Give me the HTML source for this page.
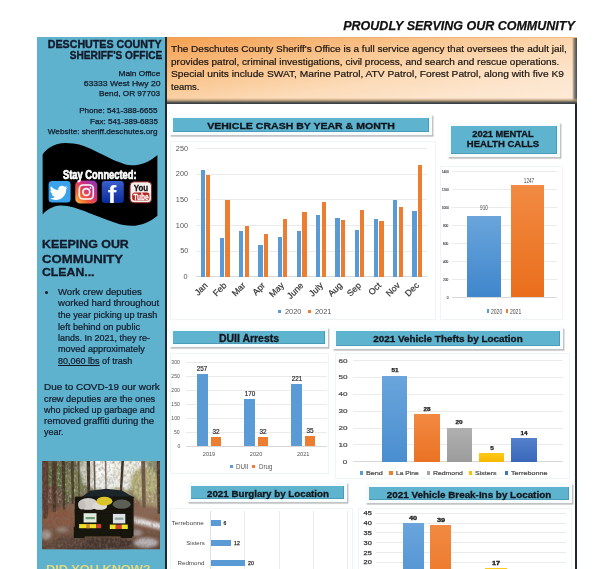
<!DOCTYPE html>
<html lang="en"><head><meta charset="utf-8"><title>Proudly Serving Our Community</title>
<style>
html,body{margin:0;padding:0;background:#fff;}
html{width:613px;height:569px;overflow:hidden;}
body{width:613px;height:569px;position:relative;overflow:hidden;font-family:"Liberation Sans", sans-serif;}
.r{position:absolute;box-sizing:border-box;}
.t{position:absolute;white-space:nowrap;margin:0;padding:0;font-weight:normal;display:block;}
.g{margin:0;padding:0;font-style:normal;}
.m{display:inline-block;width:0;height:0;vertical-align:baseline;}
#page{position:absolute;left:0;top:0;width:613px;height:569px;overflow:hidden;background:#fff;}
</style></head><body>
<div id="page">
<header class="g" id="page-header">
<h1 class="t" style="top:17.00px;font-size:13.6px;line-height:17px;color:#111;font-weight:bold;font-style:italic;right:38.40px;transform-origin:100% 13.00px;transform:scaleX(0.9196);-webkit-text-stroke:0.25px #111;">PROUDLY SERVING OUR COMMUNITY</h1>
</header>
<aside class="g" id="sidebar">
<div class="r" style="left:36.80px;top:37.00px;width:129.00px;height:540.00px;background:#5fb2cd;"></div>
<address class="g" id="office-contact">
<span class="t" style="top:38.00px;font-size:10px;line-height:13px;color:#121a2a;font-weight:bold;right:451.20px;transform-origin:100% 10.00px;transform:scaleX(1.0685);-webkit-text-stroke:0.35px #121a2a;">DESCHUTES COUNTY</span>
<span class="t" style="top:49.00px;font-size:10px;line-height:13px;color:#121a2a;font-weight:bold;right:450.70px;transform-origin:100% 10.00px;transform:scaleX(1.0134);-webkit-text-stroke:0.35px #121a2a;">SHERIFF'S OFFICE</span>
<span class="t" style="top:69.00px;font-size:7.8px;line-height:10px;color:#121a2a;right:452.50px;transform-origin:100% 7.00px;transform:scaleX(1.0637);-webkit-text-stroke:0.25px #121a2a;">Main Office</span>
<span class="t" style="top:79.00px;font-size:7.8px;line-height:10px;color:#121a2a;right:452.50px;transform-origin:100% 7.00px;transform:scaleX(1.1057);-webkit-text-stroke:0.25px #121a2a;">63333 West Hwy 20</span>
<span class="t" style="top:89.00px;font-size:7.8px;line-height:10px;color:#121a2a;right:452.50px;transform-origin:100% 7.00px;transform:scaleX(1.0500);-webkit-text-stroke:0.25px #121a2a;">Bend, OR 97703</span>
<span class="t" style="top:106.00px;font-size:7.8px;line-height:10px;color:#121a2a;right:455.30px;transform-origin:100% 7.00px;transform:scaleX(1.0379);-webkit-text-stroke:0.25px #121a2a;">Phone: 541-388-6655</span>
<span class="t" style="top:117.00px;font-size:7.8px;line-height:10px;color:#121a2a;right:455.30px;transform-origin:100% 7.00px;transform:scaleX(1.0290);-webkit-text-stroke:0.25px #121a2a;">Fax: 541-389-6835</span>
<span class="t" style="top:127.00px;font-size:7.8px;line-height:10px;color:#121a2a;right:455.30px;transform-origin:100% 7.00px;transform:scaleX(1.0498);-webkit-text-stroke:0.25px #121a2a;">Website: sheriff.deschutes.org</span>
</address>
<nav class="g" id="stay-connected">
<svg class="r" style="left:36px;top:136px" width="130" height="92" viewBox="36 136 130 92"><path d="M42.6 154.4 C45 151 48 148.5 50.7 147 C55 144.3 60 143 65.4 143 C70.5 143 75.5 143.8 80 144.8 C85 146.2 90 148.5 94.7 150.7 C100 153.2 105 155.8 109.4 158 C114 160.3 119 162.3 124 163.9 C128 165.1 132 165.5 135 165.3 C144 164.6 152 160 157.4 155 L157.4 215.7 C151 221.5 141 225.8 131.8 225.8 C126 225.8 121 224.8 116 223 C106 219.5 98 216.5 89 213 C78 208.5 68 205.3 60.4 205.6 C53 206 47 209.5 42.7 214.5 Z" fill="#000"/></svg>
<svg class="r" style="left:46px;top:178px" width="110" height="28" viewBox="46 178 110 28"><defs><linearGradient id="ig" x1="0" y1="1" x2="1" y2="0"><stop offset="0" stop-color="#fdc34f"/><stop offset="0.3" stop-color="#f4622f"/><stop offset="0.6" stop-color="#d42f7f"/><stop offset="1" stop-color="#7a3cc0"/></linearGradient><linearGradient id="fbg" x1="0" y1="0" x2="0" y2="1"><stop offset="0" stop-color="#3a5fd0"/><stop offset="1" stop-color="#0a2a9a"/></linearGradient></defs><rect x="48.6" y="181" width="22" height="21.5" rx="3.5" fill="#3aa2ea"/><path d="M66.5 187.2c-.5.3-1.100.5-1.700.5.600-.4 1.100-1 1.300-1.700-.6.4-1.200.6-1.900.7-.5-.6-1.300-1-2.200-1-1.700 0-3 1.400-3 3 0 .2 0 .5.100.7-2.500-.1-4.700-1.300-6.200-3.200-.3.500-.4 1-.4 1.500 0 1 .5 2 1.300 2.500-.5 0-1-.2-1.400-.4 0 1.500 1 2.700 2.400 3-.4.100-.9.100-1.300 0 .4 1.200 1.500 2.100 2.800 2.100-1.100.900-2.600 1.400-4.100 1.300 1.400.9 3 1.400 4.700 1.400 5.600 0 8.700-4.700 8.700-8.700v-.4c.6-.4 1.100-1 1.500-1.600z" fill="#fff" transform="translate(59.6 192) scale(1.2) translate(-59.6 -192) translate(-0.5 1)"/><rect x="75.3" y="180.6" width="22" height="22.8" rx="4.5" fill="url(#ig)"/><rect x="79.3" y="185" width="14" height="14" rx="3.8" fill="none" stroke="#fff" stroke-width="1.6"/><circle cx="86.3" cy="192" r="3.4" fill="none" stroke="#fff" stroke-width="1.6"/><circle cx="90.4" cy="187.9" r="0.9" fill="#fff"/><rect x="101.8" y="181" width="22" height="22" rx="3" fill="url(#fbg)"/><rect x="130" y="181.800" width="21.6" height="21" rx="4" fill="#f4f1ee" stroke="#8a1a16" stroke-width="1"/><rect x="132.200" y="192.400" width="17.200" height="8.200" rx="2.500" fill="#b5201c"/></svg>
<span class="t" style="top:167.00px;font-size:12.2px;line-height:16px;color:#fff;font-weight:bold;left:62.90px;transform-origin:0 12.00px;transform:scaleX(0.7653);-webkit-text-stroke:0.7px #fff;">Stay Connected:</span>
<span class="t" style="top:180.00px;font-size:24px;line-height:30px;color:#fff;font-weight:bold;left:112.40px;transform-origin:50% 23.00px;transform:translateX(-50%) scaleX(1.0750);">f</span>
<span class="t" style="top:182.00px;font-size:9.4px;line-height:12px;color:#111;font-weight:bold;left:140.80px;transform-origin:50% 9.00px;transform:translateX(-50%) scaleX(0.8463);-webkit-text-stroke:0.3px #111;">You</span>
<span class="t" style="top:191.00px;font-size:9.0px;line-height:12px;color:#fff;font-weight:bold;left:140.80px;transform-origin:50% 9.00px;transform:translateX(-50%) scaleX(0.7292);-webkit-text-stroke:0.3px #fff;">Tube</span>
</nav>
<section class="g" id="community-clean">
<div class="r" style="left:44.60px;top:291.00px;width:3.20px;height:3.20px;background:#121a2a;border-radius:50%;"></div>
<h2 class="t" style="top:237.00px;font-size:11px;line-height:14px;color:#121a2a;font-weight:bold;left:41.70px;transform-origin:0 11.00px;transform:scaleX(1.1270);-webkit-text-stroke:0.3px #121a2a;">KEEPING OUR</h2>
<h2 class="t" style="top:252.00px;font-size:11px;line-height:14px;color:#121a2a;font-weight:bold;left:41.70px;transform-origin:0 11.00px;transform:scaleX(1.1957);-webkit-text-stroke:0.3px #121a2a;">COMMUNITY</h2>
<h2 class="t" style="top:265.00px;font-size:11px;line-height:14px;color:#121a2a;font-weight:bold;left:41.70px;transform-origin:0 11.00px;transform:scaleX(1.1155);-webkit-text-stroke:0.3px #121a2a;">CLEAN...</h2>
<span class="t" style="top:286.00px;font-size:9.2px;line-height:12px;color:#121a2a;left:57.70px;transform-origin:0 9.00px;transform:scaleX(1.0408);-webkit-text-stroke:0.22px #121a2a;">Work crew deputies</span>
<span class="t" style="top:297.00px;font-size:9.2px;line-height:12px;color:#121a2a;left:57.70px;transform-origin:0 9.00px;transform:scaleX(1.0428);-webkit-text-stroke:0.22px #121a2a;">worked hard throughout</span>
<span class="t" style="top:309.00px;font-size:9.2px;line-height:12px;color:#121a2a;left:57.70px;transform-origin:0 9.00px;transform:scaleX(0.9919);-webkit-text-stroke:0.22px #121a2a;">the year picking up trash</span>
<span class="t" style="top:321.00px;font-size:9.2px;line-height:12px;color:#121a2a;left:57.70px;transform-origin:0 9.00px;transform:scaleX(1.0057);-webkit-text-stroke:0.22px #121a2a;">left behind on public</span>
<span class="t" style="top:332.00px;font-size:9.2px;line-height:12px;color:#121a2a;left:57.70px;transform-origin:0 9.00px;transform:scaleX(0.9789);-webkit-text-stroke:0.22px #121a2a;">lands. In 2021, they re-</span>
<span class="t" style="top:343.00px;font-size:9.2px;line-height:12px;color:#121a2a;left:57.70px;transform-origin:0 9.00px;transform:scaleX(0.9940);-webkit-text-stroke:0.22px #121a2a;">moved approximately</span>
<span class="t" style="top:355.00px;font-size:9.2px;line-height:12px;color:#121a2a;left:57.70px;transform-origin:0 9.00px;transform:scaleX(0.9814);-webkit-text-stroke:0.22px #121a2a;"><u style="text-decoration-thickness:0.6px;text-underline-offset:1px">80,060 lbs</u> of trash</span>
<span class="t" style="top:381.00px;font-size:9.2px;line-height:12px;color:#121a2a;left:43.50px;transform-origin:0 9.00px;transform:scaleX(1.0799);-webkit-text-stroke:0.22px #121a2a;">Due to COVD-19 our work</span>
<span class="t" style="top:393.00px;font-size:9.2px;line-height:12px;color:#121a2a;left:43.50px;transform-origin:0 9.00px;transform:scaleX(1.0079);-webkit-text-stroke:0.22px #121a2a;">crew deputies are the ones</span>
<span class="t" style="top:404.00px;font-size:9.2px;line-height:12px;color:#121a2a;left:43.50px;transform-origin:0 9.00px;transform:scaleX(0.9815);-webkit-text-stroke:0.22px #121a2a;">who picked up garbage and</span>
<span class="t" style="top:415.00px;font-size:9.2px;line-height:12px;color:#121a2a;left:43.50px;transform-origin:0 9.00px;transform:scaleX(1.0330);-webkit-text-stroke:0.22px #121a2a;">removed graffiti during the</span>
<span class="t" style="top:426.00px;font-size:9.2px;line-height:12px;color:#121a2a;left:43.50px;transform-origin:0 9.00px;transform:scaleX(0.9738);-webkit-text-stroke:0.22px #121a2a;">year.</span>
</section>
<section class="g" id="did-you-know">
<span class="t" style="top:562.00px;font-size:11px;line-height:14px;color:#e4d97c;font-weight:bold;left:45.90px;transform-origin:0 11.00px;transform:scaleX(1.1590);">DID YOU KNOW?</span>
</section>
<figure class="g" id="trailer-photo">
<svg class="r" style="left:41.8px;top:461.2px" width="118.6" height="88.5" viewBox="0 0 118.6 88.5"><defs><linearGradient id="pbg" x1="0" y1="0" x2="0" y2="1"><stop offset="0" stop-color="#86896a"/><stop offset="0.30" stop-color="#7a7a58"/><stop offset="0.45" stop-color="#7c5e48"/><stop offset="0.58" stop-color="#8c5e4a"/><stop offset="0.85" stop-color="#70503f"/><stop offset="1" stop-color="#5c4238"/></linearGradient><filter id="pbl" x="-10%" y="-10%" width="120%" height="120%"><feGaussianBlur stdDeviation="1.5"/></filter><filter id="pbm" x="-10%" y="-10%" width="120%" height="120%"><feGaussianBlur stdDeviation="1.0"/></filter><filter id="pbs" x="-5%" y="-5%" width="110%" height="110%"><feGaussianBlur stdDeviation="0.45"/></filter><filter id="pnz" x="0" y="0" width="100%" height="100%"><feTurbulence type="fractalNoise" baseFrequency="0.42 0.3" numOctaves="2" seed="11"/><feColorMatrix type="matrix" values="0 0 0 0 0.22  0 0 0 0 0.18  0 0 0 0 0.13  1.6 0.9 0 0 -1.05"/></filter><filter id="pnw" x="0" y="0" width="100%" height="100%"><feTurbulence type="fractalNoise" baseFrequency="0.5 0.35" numOctaves="2" seed="3"/><feColorMatrix type="matrix" values="0 0 0 0 0.93  0 0 0 0 0.92  0 0 0 0 0.86  0 1.7 0.8 0 -1.15"/></filter><clipPath id="pcl"><rect width="118.6" height="88.5"/></clipPath><clipPath id="ptop"><rect width="118.6" height="42"/></clipPath></defs><g clip-path="url(#pcl)"><rect width="118.6" height="88.5" fill="url(#pbg)"/><g filter="url(#pbl)"><ellipse cx="18.2" cy="18.8" rx="22.0" ry="26.0" fill="#5a5a3c" /><ellipse cx="8.2" cy="38.8" rx="12.0" ry="14.0" fill="#6a4a3a" /><ellipse cx="70.2" cy="12.8" rx="32.0" ry="18.0" fill="#eceeea" /><ellipse cx="58.2" cy="5.8" rx="16.0" ry="10.0" fill="#f8f9f7" /><ellipse cx="88.2" cy="7.8" rx="18.0" ry="11.0" fill="#eef0e6" /><ellipse cx="44.2" cy="10.8" rx="7.0" ry="12.0" fill="#c9cdc0" /><ellipse cx="102.2" cy="22.8" rx="14.0" ry="17.0" fill="#b4ae78" /><ellipse cx="108.2" cy="40.8" rx="10.0" ry="9.0" fill="#a8966e" /><ellipse cx="76.2" cy="33.8" rx="12.0" ry="7.0" fill="#b0aa78" /><ellipse cx="32.2" cy="22.8" rx="9.0" ry="15.0" fill="#6f7a48" /><ellipse cx="14.2" cy="12.8" rx="10.0" ry="12.0" fill="#596238" /><ellipse cx="16.2" cy="56.8" rx="18.0" ry="9.0" fill="#86573f" /><ellipse cx="104.2" cy="50.8" rx="14.0" ry="6.0" fill="#8a6552" /><polygon points="90.2,55.8 119.2,62.3 119.2,68.8 92.2,62.3" fill="#e4e1e4" /><ellipse cx="104.2" cy="81.8" rx="12.0" ry="5.0" fill="#b9b3b5" /><ellipse cx="94.2" cy="71.8" rx="6.0" ry="3.0" fill="#a39a98" /><ellipse cx="4.2" cy="73.8" rx="5.0" ry="5.0" fill="#a89c96" /><ellipse cx="20.2" cy="68.8" rx="6.0" ry="2.5" fill="#97857a" /><ellipse cx="54.2" cy="82.8" rx="38.0" ry="7.0" fill="#47352f" /><ellipse cx="28.2" cy="80.8" rx="16.0" ry="5.0" fill="#5a4238" /></g><g clip-path="url(#ptop)"><rect width="118.6" height="44" filter="url(#pnw)" opacity="0.55"/></g><g filter="url(#pbs)"><polygon points="0.0,-0.2 6.4,-0.2 5.8,57.8 1.2,57.8" fill="#5a3a2e" /><polygon points="9.7,-0.2 14.7,-0.2 14.0,50.8 10.8,50.8" fill="#4a3428" /><polygon points="19.7,-0.2 22.8,-0.2 23.2,48.8 20.8,48.8" fill="#46342a" /><polygon points="28.8,-0.2 31.8,-0.2 32.0,42.8 29.6,42.8" fill="#4c3a2e" /><polygon points="35.7,-0.2 37.5,-0.2 37.8,38.8 36.3,38.8" fill="#5a4a3a" /><polygon points="44.6,-0.2 48.0,-0.2 48.2,31.8 45.4,31.8" fill="#3e3028" /><polygon points="51.4,-0.2 53.2,-0.2 53.6,29.8 52.2,29.8" fill="#66584a" /><polygon points="62.8,-0.2 64.4,-0.2 64.6,28.8 63.4,28.8" fill="#7a6c5c" /><polygon points="79.4,-0.2 82.0,-0.2 80.1,30.8 77.8,30.8" fill="#3a2e28" /><polygon points="99.2,-0.2 103.2,-0.2 103.8,46.8 100.4,46.8" fill="#6c5644" /><polygon points="114.6,-0.2 118.6,-0.2 118.6,52.8 115.6,52.8" fill="#4a382e" /></g><rect width="118.6" height="88.5" filter="url(#pnz)" opacity="0.6"/><g filter="url(#pbs)"><polygon points="38.7,36.8 48.2,29.8 64.2,27.7 80.2,29.6 92.2,36.8" fill="#1d272c" /><rect x="32.8" y="35.6" width="58.8" height="39.8" fill="#14120f" /><rect x="31.8" y="65.8" width="10.8" height="11.2" fill="#15130f" /><rect x="78.6" y="65.8" width="11.6" height="11.2" fill="#15130f" /><ellipse cx="46.2" cy="43.2" rx="9.8" ry="6.2" fill="#d2cdc8" /><ellipse cx="57.8" cy="45.0" rx="7.4" ry="4.4" fill="#dedad4" /><ellipse cx="39.8" cy="44.0" rx="3.6" ry="4.4" fill="#c4bfba" /><ellipse cx="62.4" cy="40.2" rx="8.0" ry="4.4" fill="#d9c62c" /><ellipse cx="79.7" cy="43.2" rx="9.0" ry="4.6" fill="#5c5f54" /><rect x="32.6" y="48.8" width="58.4" height="3.4" fill="#14120f" /><rect x="41.6" y="52.2" width="12.9" height="9.3" fill="#e2eae0" /><rect x="70.9" y="52.9" width="12.4" height="9.5" fill="#dde2e4" /><rect x="43.6" y="56.0" width="9.2" height="2.2" fill="#6c9c78" /><rect x="72.8" y="56.6" width="8.6" height="2.2" fill="#8fa8a0" /><rect x="37.1" y="63.1" width="17.3" height="4.1" fill="#ece22a" /><rect x="54.4" y="63.1" width="4.8" height="4.1" fill="#d2402a" /><rect x="44.2" y="63.1" width="3.5" height="4.1" fill="#d8862a" /><rect x="67.8" y="63.6" width="6.0" height="4.4" fill="#ece22a" /><rect x="73.8" y="63.6" width="5.8" height="4.4" fill="#d2402a" /><rect x="79.6" y="63.6" width="6.2" height="4.4" fill="#ece22a" /></g></g></svg>
</figure>
</aside>
<main class="g" id="main-panel">
<div class="r" style="left:164.90px;top:36.80px;width:2.40px;height:540.00px;background:#1d2a33;"></div>
<div class="r" style="left:575.20px;top:100.00px;width:1.40px;height:480.00px;background:#1d2a33;"></div>
<section class="g" id="intro">
<div class="r" style="left:167.3px;top:36.5px;width:409.3px;height:67.3px;background:linear-gradient(to bottom right,#f5a04e 0%,#f7b270 18%,#fac995 38%,#fcdbb8 58%,#fde6cf 80%,#feebd8 100%);"></div>
<div class="r" style="left:167.3px;top:36.5px;width:409.3px;height:1px;background:rgba(226,160,96,.45);"></div>
<div class="r" style="left:572.2px;top:37.5px;width:4.4px;height:66.3px;background:linear-gradient(90deg,rgba(120,112,100,0) 0%,rgba(105,100,92,.75) 45%,rgba(62,64,64,.95) 100%);"></div>
<div class="r" style="left:167.3px;top:98.4px;width:409.3px;height:5.6px;background:linear-gradient(180deg,rgba(200,165,120,0) 0%,rgba(190,158,118,.65) 28%,rgba(150,128,100,.9) 52%,rgba(85,88,86,.96) 66%,rgba(48,56,60,1) 100%);"></div>
<span class="t" style="top:43.00px;font-size:9.6px;line-height:12px;color:#1a1410;left:170.90px;transform-origin:0 9.00px;transform:scaleX(1.0472);-webkit-text-stroke:0.2px #1a1410;">The Deschutes County Sheriff's Office is a full service agency that oversees the adult jail,</span>
<span class="t" style="top:56.00px;font-size:9.6px;line-height:12px;color:#1a1410;left:170.90px;transform-origin:0 9.00px;transform:scaleX(1.0417);-webkit-text-stroke:0.2px #1a1410;">provides patrol, criminal investigations, civil process, and search and rescue operations.</span>
<span class="t" style="top:68.00px;font-size:9.6px;line-height:12px;color:#1a1410;left:170.90px;transform-origin:0 9.00px;transform:scaleX(1.0638);-webkit-text-stroke:0.2px #1a1410;">Special units include SWAT, Marine Patrol, ATV Patrol, Forest Patrol, along with five K9</span>
<span class="t" style="top:81.00px;font-size:9.6px;line-height:12px;color:#1a1410;left:170.90px;transform-origin:0 9.00px;transform:scaleX(0.9862);-webkit-text-stroke:0.2px #1a1410;">teams.</span>
</section>
<section class="g" id="chart-vehicle-crash">
<div class="r" style="left:173.0px;top:117.8px;width:255.70px;height:14.70px;background:#5eb3ce;box-shadow:inset -1px -1px 0 0 rgba(40,110,140,.35), 0 0 0 3.3px #f7fcff, 1px 1.1px 0.8px 3.3px rgba(115,115,115,.62);"></div>
<div class="r" style="left:169.5px;top:141.0px;width:266.00px;height:179.00px;background:#fff;border:1px solid #eff4f6;"></div>
<div class="r" style="left:196.00px;top:276.20px;width:231.00px;height:0.80px;background:#d9d9d9;"></div>
<div class="r" style="left:196.00px;top:250.55px;width:231.00px;height:0.80px;background:#ebebeb;"></div>
<div class="r" style="left:196.00px;top:224.90px;width:231.00px;height:0.80px;background:#ebebeb;"></div>
<div class="r" style="left:196.00px;top:199.25px;width:231.00px;height:0.80px;background:#ebebeb;"></div>
<div class="r" style="left:196.00px;top:173.60px;width:231.00px;height:0.80px;background:#ebebeb;"></div>
<div class="r" style="left:196.00px;top:147.95px;width:231.00px;height:0.80px;background:#ebebeb;"></div>
<div class="r" style="left:200.60px;top:169.90px;width:4.40px;height:106.70px;background:#5b9bd5;"></div>
<div class="r" style="left:206.10px;top:174.51px;width:4.40px;height:102.09px;background:#ed7d31;"></div>
<div class="r" style="left:219.85px;top:238.13px;width:4.40px;height:38.47px;background:#5b9bd5;"></div>
<div class="r" style="left:225.35px;top:200.16px;width:4.40px;height:76.44px;background:#ed7d31;"></div>
<div class="r" style="left:239.10px;top:231.46px;width:4.40px;height:45.14px;background:#5b9bd5;"></div>
<div class="r" style="left:244.60px;top:226.33px;width:4.40px;height:50.27px;background:#ed7d31;"></div>
<div class="r" style="left:258.35px;top:244.79px;width:4.40px;height:31.81px;background:#5b9bd5;"></div>
<div class="r" style="left:263.85px;top:234.02px;width:4.40px;height:42.58px;background:#ed7d31;"></div>
<div class="r" style="left:277.60px;top:237.10px;width:4.40px;height:39.50px;background:#5b9bd5;"></div>
<div class="r" style="left:283.10px;top:219.14px;width:4.40px;height:57.46px;background:#ed7d31;"></div>
<div class="r" style="left:296.85px;top:230.94px;width:4.40px;height:45.66px;background:#5b9bd5;"></div>
<div class="r" style="left:302.35px;top:211.96px;width:4.40px;height:64.64px;background:#ed7d31;"></div>
<div class="r" style="left:316.10px;top:215.04px;width:4.40px;height:61.56px;background:#5b9bd5;"></div>
<div class="r" style="left:321.60px;top:202.22px;width:4.40px;height:74.38px;background:#ed7d31;"></div>
<div class="r" style="left:335.35px;top:218.12px;width:4.40px;height:58.48px;background:#5b9bd5;"></div>
<div class="r" style="left:340.85px;top:219.66px;width:4.40px;height:56.94px;background:#ed7d31;"></div>
<div class="r" style="left:354.60px;top:230.43px;width:4.40px;height:46.17px;background:#5b9bd5;"></div>
<div class="r" style="left:360.10px;top:210.42px;width:4.40px;height:66.18px;background:#ed7d31;"></div>
<div class="r" style="left:373.85px;top:219.14px;width:4.40px;height:57.46px;background:#5b9bd5;"></div>
<div class="r" style="left:379.35px;top:220.68px;width:4.40px;height:55.92px;background:#ed7d31;"></div>
<div class="r" style="left:393.10px;top:199.65px;width:4.40px;height:76.95px;background:#5b9bd5;"></div>
<div class="r" style="left:398.60px;top:207.35px;width:4.40px;height:69.25px;background:#ed7d31;"></div>
<div class="r" style="left:412.35px;top:210.94px;width:4.40px;height:65.66px;background:#5b9bd5;"></div>
<div class="r" style="left:417.85px;top:164.77px;width:4.40px;height:111.83px;background:#ed7d31;"></div>
<div class="r" style="left:277.50px;top:309.60px;width:3.20px;height:3.20px;background:#5b9bd5;"></div>
<div class="r" style="left:307.80px;top:309.60px;width:3.20px;height:3.20px;background:#ed7d31;"></div>
<h2 class="t" style="top:120.00px;font-size:9.4px;line-height:12px;color:#10161c;font-weight:bold;left:301.30px;transform-origin:50% 9.00px;transform:translateX(-50%) scaleX(1.1243);-webkit-text-stroke:0.3px #10161c;">VEHICLE CRASH BY YEAR &amp; MONTH</h2>
<span class="t" style="top:272.00px;font-size:6.6px;line-height:9px;color:#555;right:425.10px;transform-origin:100% 7.00px;transform:scaleX(1.1030);">0</span>
<span class="t" style="top:246.00px;font-size:6.6px;line-height:9px;color:#555;right:425.10px;transform-origin:100% 7.00px;transform:scaleX(1.1030);">50</span>
<span class="t" style="top:221.00px;font-size:6.6px;line-height:9px;color:#555;right:425.10px;transform-origin:100% 7.00px;transform:scaleX(1.1030);">100</span>
<span class="t" style="top:195.00px;font-size:6.6px;line-height:9px;color:#555;right:425.10px;transform-origin:100% 7.00px;transform:scaleX(1.1030);">150</span>
<span class="t" style="top:169.00px;font-size:6.6px;line-height:9px;color:#555;right:425.10px;transform-origin:100% 7.00px;transform:scaleX(1.1030);">200</span>
<span class="t" style="top:144.00px;font-size:6.6px;line-height:9px;color:#555;right:425.10px;transform-origin:100% 7.00px;transform:scaleX(1.1030);">250</span>
<span class="t" style="top:278.00px;font-size:8.8px;line-height:11px;color:#333;right:404.90px;transform-origin:100% 8.00px;transform:rotate(-45deg);-webkit-text-stroke:0.2px #333;">Jan</span>
<span class="t" style="top:278.00px;font-size:8.8px;line-height:11px;color:#333;right:385.65px;transform-origin:100% 8.00px;transform:rotate(-45deg);-webkit-text-stroke:0.2px #333;">Feb</span>
<span class="t" style="top:278.00px;font-size:8.8px;line-height:11px;color:#333;right:366.40px;transform-origin:100% 8.00px;transform:rotate(-45deg);-webkit-text-stroke:0.2px #333;">Mar</span>
<span class="t" style="top:278.00px;font-size:8.8px;line-height:11px;color:#333;right:347.15px;transform-origin:100% 8.00px;transform:rotate(-45deg);-webkit-text-stroke:0.2px #333;">Apr</span>
<span class="t" style="top:278.00px;font-size:8.8px;line-height:11px;color:#333;right:327.90px;transform-origin:100% 8.00px;transform:rotate(-45deg);-webkit-text-stroke:0.2px #333;">May</span>
<span class="t" style="top:278.00px;font-size:8.8px;line-height:11px;color:#333;right:308.65px;transform-origin:100% 8.00px;transform:rotate(-45deg);-webkit-text-stroke:0.2px #333;">June</span>
<span class="t" style="top:278.00px;font-size:8.8px;line-height:11px;color:#333;right:289.40px;transform-origin:100% 8.00px;transform:rotate(-45deg);-webkit-text-stroke:0.2px #333;">July</span>
<span class="t" style="top:278.00px;font-size:8.8px;line-height:11px;color:#333;right:270.15px;transform-origin:100% 8.00px;transform:rotate(-45deg);-webkit-text-stroke:0.2px #333;">Aug</span>
<span class="t" style="top:278.00px;font-size:8.8px;line-height:11px;color:#333;right:250.90px;transform-origin:100% 8.00px;transform:rotate(-45deg);-webkit-text-stroke:0.2px #333;">Sep</span>
<span class="t" style="top:278.00px;font-size:8.8px;line-height:11px;color:#333;right:231.65px;transform-origin:100% 8.00px;transform:rotate(-45deg);-webkit-text-stroke:0.2px #333;">Oct</span>
<span class="t" style="top:278.00px;font-size:8.8px;line-height:11px;color:#333;right:212.40px;transform-origin:100% 8.00px;transform:rotate(-45deg);-webkit-text-stroke:0.2px #333;">Nov</span>
<span class="t" style="top:278.00px;font-size:8.8px;line-height:11px;color:#333;right:193.15px;transform-origin:100% 8.00px;transform:rotate(-45deg);-webkit-text-stroke:0.2px #333;">Dec</span>
<span class="t" style="top:307.00px;font-size:6.6px;line-height:9px;color:#555;left:284.50px;transform-origin:0 7.00px;transform:scaleX(1.1246);">2020</span>
<span class="t" style="top:307.00px;font-size:6.6px;line-height:9px;color:#555;left:314.80px;transform-origin:0 7.00px;transform:scaleX(1.1246);">2021</span>
</section>
<section class="g" id="chart-mental-health">
<div class="r" style="left:451.0px;top:125.6px;width:106.20px;height:28.50px;background:#5eb3ce;box-shadow:inset -1px -1px 0 0 rgba(40,110,140,.35), 0 0 0 3.3px #f7fcff, 1px 1.1px 0.8px 3.3px rgba(115,115,115,.62);"></div>
<div class="r" style="left:439.8px;top:165.8px;width:123.60px;height:154.00px;background:#fff;border:1px solid #eff4f6;"></div>
<div class="r" style="left:452.00px;top:296.80px;width:105.00px;height:0.80px;background:#d9d9d9;"></div>
<div class="r" style="left:452.00px;top:278.85px;width:105.00px;height:0.80px;background:#ebebeb;"></div>
<div class="r" style="left:452.00px;top:260.90px;width:105.00px;height:0.80px;background:#ebebeb;"></div>
<div class="r" style="left:452.00px;top:242.95px;width:105.00px;height:0.80px;background:#ebebeb;"></div>
<div class="r" style="left:452.00px;top:225.00px;width:105.00px;height:0.80px;background:#ebebeb;"></div>
<div class="r" style="left:452.00px;top:207.05px;width:105.00px;height:0.80px;background:#ebebeb;"></div>
<div class="r" style="left:452.00px;top:189.10px;width:105.00px;height:0.80px;background:#ebebeb;"></div>
<div class="r" style="left:452.00px;top:171.15px;width:105.00px;height:0.80px;background:#ebebeb;"></div>
<div class="r" style="left:466.70px;top:215.53px;width:34.30px;height:81.67px;background:linear-gradient(180deg,#6aa5dc,#3f86cc);"></div>
<div class="r" style="left:510.70px;top:185.28px;width:33.60px;height:111.92px;background:linear-gradient(180deg,#f28a42,#e96e1c);"></div>
<div class="r" style="left:486.60px;top:308.90px;width:2.40px;height:4.40px;background:#5b9bd5;"></div>
<div class="r" style="left:505.60px;top:308.90px;width:2.40px;height:4.40px;background:#ed7d31;"></div>
<h2 class="t" style="top:128.00px;font-size:9.2px;line-height:12px;color:#10161c;font-weight:bold;left:503.40px;transform-origin:50% 9.00px;transform:translateX(-50%) scaleX(1.0133);-webkit-text-stroke:0.3px #10161c;">2021 MENTAL</h2>
<h2 class="t" style="top:138.00px;font-size:9.2px;line-height:12px;color:#10161c;font-weight:bold;left:503.30px;transform-origin:50% 9.00px;transform:translateX(-50%) scaleX(1.0380);-webkit-text-stroke:0.3px #10161c;">HEALTH CALLS</h2>
<span class="t" style="top:295.00px;font-size:4.4px;line-height:6px;color:#3a3a3a;right:164.60px;transform-origin:100% 4.00px;transform:scaleX(0.7134);-webkit-text-stroke:0.15px #3a3a3a;">0</span>
<span class="t" style="top:277.00px;font-size:4.4px;line-height:6px;color:#3a3a3a;right:164.60px;transform-origin:100% 4.00px;transform:scaleX(0.7164);-webkit-text-stroke:0.15px #3a3a3a;">200</span>
<span class="t" style="top:259.00px;font-size:4.4px;line-height:6px;color:#3a3a3a;right:164.60px;transform-origin:100% 4.00px;transform:scaleX(0.7164);-webkit-text-stroke:0.15px #3a3a3a;">400</span>
<span class="t" style="top:241.00px;font-size:4.4px;line-height:6px;color:#3a3a3a;right:164.60px;transform-origin:100% 4.00px;transform:scaleX(0.7164);-webkit-text-stroke:0.15px #3a3a3a;">600</span>
<span class="t" style="top:223.00px;font-size:4.4px;line-height:6px;color:#3a3a3a;right:164.60px;transform-origin:100% 4.00px;transform:scaleX(0.7164);-webkit-text-stroke:0.15px #3a3a3a;">800</span>
<span class="t" style="top:205.00px;font-size:4.4px;line-height:6px;color:#3a3a3a;right:164.60px;transform-origin:100% 4.00px;transform:scaleX(0.7157);-webkit-text-stroke:0.15px #3a3a3a;">1000</span>
<span class="t" style="top:187.00px;font-size:4.4px;line-height:6px;color:#3a3a3a;right:164.60px;transform-origin:100% 4.00px;transform:scaleX(0.7157);-webkit-text-stroke:0.15px #3a3a3a;">1200</span>
<span class="t" style="top:169.00px;font-size:4.4px;line-height:6px;color:#3a3a3a;right:164.60px;transform-origin:100% 4.00px;transform:scaleX(0.7157);-webkit-text-stroke:0.15px #3a3a3a;">1400</span>
<span class="t" style="top:203.00px;font-size:7.2px;line-height:9px;color:#444;left:483.80px;transform-origin:50% 7.00px;transform:translateX(-50%) scaleX(0.6500);">910</span>
<span class="t" style="top:176.00px;font-size:7.2px;line-height:9px;color:#444;left:528.60px;transform-origin:50% 7.00px;transform:translateX(-50%) scaleX(0.6438);">1247</span>
<span class="t" style="top:307.00px;font-size:6.8px;line-height:9px;color:#444;left:490.80px;transform-origin:0 7.00px;transform:scaleX(0.7405);">2020</span>
<span class="t" style="top:307.00px;font-size:6.8px;line-height:9px;color:#444;left:509.80px;transform-origin:0 7.00px;transform:scaleX(0.7405);">2021</span>
</section>
<section class="g" id="chart-duii-arrests">
<div class="r" style="left:172.8px;top:330.9px;width:152.40px;height:13.40px;background:#5eb3ce;box-shadow:inset -1px -1px 0 0 rgba(40,110,140,.35), 0 0 0 3.3px #f7fcff, 1px 1.1px 0.8px 3.3px rgba(115,115,115,.62);"></div>
<div class="r" style="left:169.5px;top:352.5px;width:159.50px;height:121.00px;background:#fff;border:1px solid #eff4f6;"></div>
<div class="r" style="left:186.00px;top:445.60px;width:141.00px;height:0.80px;background:#d9d9d9;"></div>
<div class="r" style="left:186.00px;top:431.65px;width:141.00px;height:0.80px;background:#ebebeb;"></div>
<div class="r" style="left:186.00px;top:417.70px;width:141.00px;height:0.80px;background:#ebebeb;"></div>
<div class="r" style="left:186.00px;top:403.75px;width:141.00px;height:0.80px;background:#ebebeb;"></div>
<div class="r" style="left:186.00px;top:389.80px;width:141.00px;height:0.80px;background:#ebebeb;"></div>
<div class="r" style="left:186.00px;top:375.85px;width:141.00px;height:0.80px;background:#ebebeb;"></div>
<div class="r" style="left:186.00px;top:361.90px;width:141.00px;height:0.80px;background:#ebebeb;"></div>
<div class="r" style="left:197.20px;top:374.30px;width:10.40px;height:71.70px;background:#5b9bd5;"></div>
<div class="r" style="left:210.70px;top:437.07px;width:10.40px;height:8.93px;background:#ed7d31;"></div>
<div class="r" style="left:244.30px;top:398.57px;width:10.40px;height:47.43px;background:#5b9bd5;"></div>
<div class="r" style="left:257.80px;top:437.07px;width:10.40px;height:8.93px;background:#ed7d31;"></div>
<div class="r" style="left:291.40px;top:384.34px;width:10.40px;height:61.66px;background:#5b9bd5;"></div>
<div class="r" style="left:304.90px;top:436.24px;width:10.40px;height:9.76px;background:#ed7d31;"></div>
<div class="r" style="left:229.60px;top:465.00px;width:3.00px;height:3.00px;background:#5b9bd5;"></div>
<div class="r" style="left:252.20px;top:465.00px;width:3.00px;height:3.00px;background:#ed7d31;"></div>
<h2 class="t" style="top:332.00px;font-size:10.4px;line-height:13px;color:#10161c;font-weight:bold;left:249.20px;transform-origin:50% 10.00px;transform:translateX(-50%) scaleX(1.0089);-webkit-text-stroke:0.3px #10161c;">DUII Arrests</h2>
<span class="t" style="top:442.00px;font-size:5.9px;line-height:8px;color:#555;right:433.20px;transform-origin:100% 6.00px;transform:scaleX(0.8625);">0</span>
<span class="t" style="top:428.00px;font-size:5.9px;line-height:8px;color:#555;right:433.20px;transform-origin:100% 6.00px;transform:scaleX(0.8625);">50</span>
<span class="t" style="top:414.00px;font-size:5.9px;line-height:8px;color:#555;right:433.20px;transform-origin:100% 6.00px;transform:scaleX(0.8625);">100</span>
<span class="t" style="top:400.00px;font-size:5.9px;line-height:8px;color:#555;right:433.20px;transform-origin:100% 6.00px;transform:scaleX(0.8625);">150</span>
<span class="t" style="top:386.00px;font-size:5.9px;line-height:8px;color:#555;right:433.20px;transform-origin:100% 6.00px;transform:scaleX(0.8625);">200</span>
<span class="t" style="top:372.00px;font-size:5.9px;line-height:8px;color:#555;right:433.20px;transform-origin:100% 6.00px;transform:scaleX(0.8625);">250</span>
<span class="t" style="top:358.00px;font-size:5.9px;line-height:8px;color:#555;right:433.20px;transform-origin:100% 6.00px;transform:scaleX(0.8625);">300</span>
<span class="t" style="top:364.00px;font-size:7.2px;line-height:9px;color:#2a2a2a;left:202.40px;transform-origin:50% 7.00px;transform:translateX(-50%) scaleX(0.8833);-webkit-text-stroke:0.2px #2a2a2a;">257</span>
<span class="t" style="top:427.00px;font-size:7.2px;line-height:9px;color:#2a2a2a;left:215.80px;transform-origin:50% 7.00px;transform:translateX(-50%) scaleX(0.8875);-webkit-text-stroke:0.2px #2a2a2a;">32</span>
<span class="t" style="top:451.00px;font-size:5.6px;line-height:7px;color:#555;left:209.00px;transform-origin:50% 5.00px;transform:translateX(-50%);">2019</span>
<span class="t" style="top:389.00px;font-size:7.2px;line-height:9px;color:#2a2a2a;left:249.50px;transform-origin:50% 7.00px;transform:translateX(-50%) scaleX(0.8833);-webkit-text-stroke:0.2px #2a2a2a;">170</span>
<span class="t" style="top:427.00px;font-size:7.2px;line-height:9px;color:#2a2a2a;left:262.90px;transform-origin:50% 7.00px;transform:translateX(-50%) scaleX(0.8875);-webkit-text-stroke:0.2px #2a2a2a;">32</span>
<span class="t" style="top:451.00px;font-size:5.6px;line-height:7px;color:#555;left:256.10px;transform-origin:50% 5.00px;transform:translateX(-50%);">2020</span>
<span class="t" style="top:374.00px;font-size:7.2px;line-height:9px;color:#2a2a2a;left:296.60px;transform-origin:50% 7.00px;transform:translateX(-50%) scaleX(0.8833);-webkit-text-stroke:0.2px #2a2a2a;">221</span>
<span class="t" style="top:426.00px;font-size:7.2px;line-height:9px;color:#2a2a2a;left:310.00px;transform-origin:50% 7.00px;transform:translateX(-50%) scaleX(0.8875);-webkit-text-stroke:0.2px #2a2a2a;">35</span>
<span class="t" style="top:451.00px;font-size:5.6px;line-height:7px;color:#555;left:303.20px;transform-origin:50% 5.00px;transform:translateX(-50%);">2021</span>
<span class="t" style="top:462.00px;font-size:6.6px;line-height:9px;color:#555;left:235.70px;transform-origin:0 7.00px;transform:scaleX(0.9479);">DUII</span>
<span class="t" style="top:462.00px;font-size:6.6px;line-height:9px;color:#555;left:258.50px;transform-origin:0 7.00px;transform:scaleX(0.9303);">Drug</span>
</section>
<section class="g" id="chart-vehicle-thefts">
<div class="r" style="left:335.9px;top:331.3px;width:224.40px;height:14.70px;background:#5eb3ce;box-shadow:inset -1px -1px 0 0 rgba(40,110,140,.35), 0 0 0 3.3px #f7fcff, 1px 1.1px 0.8px 3.3px rgba(115,115,115,.62);"></div>
<div class="r" style="left:334.6px;top:353.2px;width:235.40px;height:125.80px;background:#fff;border:1px solid #eff4f6;"></div>
<div class="r" style="left:353.00px;top:461.20px;width:210.00px;height:0.80px;background:#d9d9d9;"></div>
<div class="r" style="left:353.00px;top:444.35px;width:210.00px;height:0.80px;background:#ebebeb;"></div>
<div class="r" style="left:353.00px;top:427.50px;width:210.00px;height:0.80px;background:#ebebeb;"></div>
<div class="r" style="left:353.00px;top:410.65px;width:210.00px;height:0.80px;background:#ebebeb;"></div>
<div class="r" style="left:353.00px;top:393.80px;width:210.00px;height:0.80px;background:#ebebeb;"></div>
<div class="r" style="left:353.00px;top:376.95px;width:210.00px;height:0.80px;background:#ebebeb;"></div>
<div class="r" style="left:353.00px;top:360.10px;width:210.00px;height:0.80px;background:#ebebeb;"></div>
<div class="r" style="left:381.90px;top:375.67px;width:25.50px;height:85.94px;background:linear-gradient(180deg,#6aa5dc,#4a8ed0);"></div>
<div class="r" style="left:414.20px;top:414.42px;width:25.50px;height:47.18px;background:linear-gradient(180deg,#f28a42,#ea7224);"></div>
<div class="r" style="left:446.50px;top:427.90px;width:25.50px;height:33.70px;background:linear-gradient(180deg,#b0b0b0,#9c9c9c);"></div>
<div class="r" style="left:478.80px;top:453.18px;width:25.50px;height:8.43px;background:linear-gradient(180deg,#ffc919,#f7b900);"></div>
<div class="r" style="left:511.10px;top:438.01px;width:25.50px;height:23.59px;background:linear-gradient(180deg,#5480cc,#3a67ba);"></div>
<div class="r" style="left:360.00px;top:471.40px;width:3.40px;height:3.40px;background:#5b9bd5;"></div>
<div class="r" style="left:389.40px;top:471.40px;width:3.40px;height:3.40px;background:#ed7d31;"></div>
<div class="r" style="left:426.60px;top:471.40px;width:3.40px;height:3.40px;background:#a5a5a5;"></div>
<div class="r" style="left:468.90px;top:471.40px;width:3.40px;height:3.40px;background:#ffc000;"></div>
<div class="r" style="left:504.90px;top:471.40px;width:3.40px;height:3.40px;background:#4472c4;"></div>
<h2 class="t" style="top:333.00px;font-size:9.2px;line-height:12px;color:#10161c;font-weight:bold;left:448.00px;transform-origin:50% 9.00px;transform:translateX(-50%) scaleX(1.0757);-webkit-text-stroke:0.3px #10161c;">2021 Vehicle Thefts by Location</h2>
<span class="t" style="top:458.00px;font-size:5.9px;line-height:8px;color:#4a4a4a;right:265.50px;transform-origin:100% 6.00px;transform:scaleX(1.3714);-webkit-text-stroke:0.2px #4a4a4a;">0</span>
<span class="t" style="top:441.00px;font-size:5.9px;line-height:8px;color:#4a4a4a;right:265.50px;transform-origin:100% 6.00px;transform:scaleX(1.3714);-webkit-text-stroke:0.2px #4a4a4a;">10</span>
<span class="t" style="top:424.00px;font-size:5.9px;line-height:8px;color:#4a4a4a;right:265.50px;transform-origin:100% 6.00px;transform:scaleX(1.3714);-webkit-text-stroke:0.2px #4a4a4a;">20</span>
<span class="t" style="top:407.00px;font-size:5.9px;line-height:8px;color:#4a4a4a;right:265.50px;transform-origin:100% 6.00px;transform:scaleX(1.3714);-webkit-text-stroke:0.2px #4a4a4a;">30</span>
<span class="t" style="top:390.00px;font-size:5.9px;line-height:8px;color:#4a4a4a;right:265.50px;transform-origin:100% 6.00px;transform:scaleX(1.3714);-webkit-text-stroke:0.2px #4a4a4a;">40</span>
<span class="t" style="top:373.00px;font-size:5.9px;line-height:8px;color:#4a4a4a;right:265.50px;transform-origin:100% 6.00px;transform:scaleX(1.3714);-webkit-text-stroke:0.2px #4a4a4a;">50</span>
<span class="t" style="top:357.00px;font-size:5.9px;line-height:8px;color:#4a4a4a;right:265.50px;transform-origin:100% 6.00px;transform:scaleX(1.3714);-webkit-text-stroke:0.2px #4a4a4a;">60</span>
<span class="t" style="top:368.00px;font-size:4.7px;line-height:6px;color:#222;font-weight:bold;left:394.60px;transform-origin:50% 4.00px;transform:translateX(-50%) scaleX(1.3605);-webkit-text-stroke:0.25px #222;">51</span>
<span class="t" style="top:407.00px;font-size:4.7px;line-height:6px;color:#222;font-weight:bold;left:426.90px;transform-origin:50% 4.00px;transform:translateX(-50%) scaleX(1.3605);-webkit-text-stroke:0.25px #222;">28</span>
<span class="t" style="top:420.00px;font-size:4.7px;line-height:6px;color:#222;font-weight:bold;left:459.20px;transform-origin:50% 4.00px;transform:translateX(-50%) scaleX(1.3605);-webkit-text-stroke:0.25px #222;">20</span>
<span class="t" style="top:446.00px;font-size:4.7px;line-height:6px;color:#222;font-weight:bold;left:491.50px;transform-origin:50% 4.00px;transform:translateX(-50%) scaleX(1.3605);-webkit-text-stroke:0.25px #222;">5</span>
<span class="t" style="top:431.00px;font-size:4.7px;line-height:6px;color:#222;font-weight:bold;left:523.80px;transform-origin:50% 4.00px;transform:translateX(-50%) scaleX(1.3605);-webkit-text-stroke:0.25px #222;">14</span>
<span class="t" style="top:469.00px;font-size:5.8px;line-height:8px;color:#4a4a4a;left:366.40px;transform-origin:0 6.00px;transform:scaleX(1.2475);-webkit-text-stroke:0.2px #4a4a4a;">Bend</span>
<span class="t" style="top:469.00px;font-size:5.8px;line-height:8px;color:#4a4a4a;left:395.80px;transform-origin:0 6.00px;transform:scaleX(1.1539);-webkit-text-stroke:0.2px #4a4a4a;">La Pine</span>
<span class="t" style="top:469.00px;font-size:5.8px;line-height:8px;color:#4a4a4a;left:433.00px;transform-origin:0 6.00px;transform:scaleX(1.1853);-webkit-text-stroke:0.2px #4a4a4a;">Redmond</span>
<span class="t" style="top:469.00px;font-size:5.8px;line-height:8px;color:#4a4a4a;left:475.30px;transform-origin:0 6.00px;transform:scaleX(1.2134);-webkit-text-stroke:0.2px #4a4a4a;">Sisters</span>
<span class="t" style="top:469.00px;font-size:5.8px;line-height:8px;color:#4a4a4a;left:511.30px;transform-origin:0 6.00px;transform:scaleX(1.2411);-webkit-text-stroke:0.2px #4a4a4a;">Terrebonne</span>
</section>
<section class="g" id="chart-burglary">
<div class="r" style="left:191.3px;top:485.8px;width:152.60px;height:13.60px;background:#5eb3ce;box-shadow:inset -1px -1px 0 0 rgba(40,110,140,.35), 0 0 0 3.3px #f7fcff, 1px 1.1px 0.8px 3.3px rgba(115,115,115,.62);"></div>
<div class="r" style="left:169.5px;top:508.4px;width:183.20px;height:71.60px;background:#fff;border:1px solid #eff4f6;"></div>
<div class="r" style="left:210.20px;top:511.00px;width:0.80px;height:60.00px;background:#e0e0e0;"></div>
<div class="r" style="left:244.40px;top:511.00px;width:0.80px;height:60.00px;background:#ebebeb;"></div>
<div class="r" style="left:278.60px;top:511.00px;width:0.80px;height:60.00px;background:#ebebeb;"></div>
<div class="r" style="left:312.80px;top:511.00px;width:0.80px;height:60.00px;background:#ebebeb;"></div>
<div class="r" style="left:347.00px;top:511.00px;width:0.80px;height:60.00px;background:#ebebeb;"></div>
<div class="r" style="left:210.90px;top:519.90px;width:10.20px;height:6.20px;background:#5b9bd5;"></div>
<div class="r" style="left:210.90px;top:540.00px;width:20.40px;height:6.20px;background:#5b9bd5;"></div>
<div class="r" style="left:210.90px;top:559.70px;width:34.00px;height:6.20px;background:#5b9bd5;"></div>
<h2 class="t" style="top:488.00px;font-size:9.2px;line-height:12px;color:#10161c;font-weight:bold;left:267.80px;transform-origin:50% 9.00px;transform:translateX(-50%) scaleX(1.0619);-webkit-text-stroke:0.3px #10161c;">2021 Burglary by Location</h2>
<span class="t" style="top:519.00px;font-size:6.1px;line-height:8px;color:#444;right:408.80px;transform-origin:100% 6.00px;transform:scaleX(1.0477);">Terrebonne</span>
<span class="t" style="top:519.00px;font-size:5.8px;line-height:8px;color:#2a2a2a;left:225.00px;transform-origin:50% 6.00px;transform:translateX(-50%) scaleX(0.8657);-webkit-text-stroke:0.25px #2a2a2a;">6</span>
<span class="t" style="top:539.00px;font-size:6.1px;line-height:8px;color:#444;right:408.80px;transform-origin:100% 6.00px;transform:scaleX(0.9826);">Sisters</span>
<span class="t" style="top:539.00px;font-size:5.8px;line-height:8px;color:#2a2a2a;left:237.40px;transform-origin:50% 6.00px;transform:translateX(-50%) scaleX(0.8988);-webkit-text-stroke:0.25px #2a2a2a;">12</span>
<span class="t" style="top:559.00px;font-size:6.1px;line-height:8px;color:#444;right:408.80px;transform-origin:100% 6.00px;transform:scaleX(1.0213);">Redmond</span>
<span class="t" style="top:559.00px;font-size:5.8px;line-height:8px;color:#2a2a2a;left:251.00px;transform-origin:50% 6.00px;transform:translateX(-50%) scaleX(0.8988);-webkit-text-stroke:0.25px #2a2a2a;">20</span>
</section>
<section class="g" id="chart-break-ins">
<div class="r" style="left:369.4px;top:487.3px;width:199.80px;height:13.20px;background:#5eb3ce;box-shadow:inset -1px -1px 0 0 rgba(40,110,140,.35), 0 0 0 3.3px #f7fcff, 1px 1.1px 0.8px 3.3px rgba(115,115,115,.62);"></div>
<div class="r" style="left:357.5px;top:508.4px;width:214.50px;height:71.60px;background:#fff;border:1px solid #eff4f6;"></div>
<div class="r" style="left:376.00px;top:561.90px;width:190.00px;height:0.80px;background:#ebebeb;"></div>
<div class="r" style="left:376.00px;top:552.05px;width:190.00px;height:0.80px;background:#ebebeb;"></div>
<div class="r" style="left:376.00px;top:542.20px;width:190.00px;height:0.80px;background:#ebebeb;"></div>
<div class="r" style="left:376.00px;top:532.35px;width:190.00px;height:0.80px;background:#ebebeb;"></div>
<div class="r" style="left:376.00px;top:522.50px;width:190.00px;height:0.80px;background:#ebebeb;"></div>
<div class="r" style="left:376.00px;top:512.65px;width:190.00px;height:0.80px;background:#ebebeb;"></div>
<div class="r" style="left:403.10px;top:522.90px;width:20.70px;height:77.10px;background:linear-gradient(180deg,#6aa5dc,#4a8ed0);"></div>
<div class="r" style="left:430.00px;top:524.87px;width:21.20px;height:75.13px;background:linear-gradient(180deg,#f28a42,#ea7224);"></div>
<div class="r" style="left:485.00px;top:568.21px;width:21.60px;height:31.79px;background:linear-gradient(180deg,#ffc919,#f7b900);"></div>
<h2 class="t" style="top:489.00px;font-size:9.2px;line-height:12px;color:#10161c;font-weight:bold;left:469.40px;transform-origin:50% 9.00px;transform:translateX(-50%) scaleX(1.0731);-webkit-text-stroke:0.3px #10161c;">2021 Vehicle Break-Ins by Location</h2>
<span class="t" style="top:558.00px;font-size:6.2px;line-height:8px;color:#333;right:241.20px;transform-origin:100% 6.00px;transform:scaleX(1.2045);-webkit-text-stroke:0.25px #333;">20</span>
<span class="t" style="top:549.00px;font-size:6.2px;line-height:8px;color:#333;right:241.20px;transform-origin:100% 6.00px;transform:scaleX(1.2045);-webkit-text-stroke:0.25px #333;">25</span>
<span class="t" style="top:539.00px;font-size:6.2px;line-height:8px;color:#333;right:241.20px;transform-origin:100% 6.00px;transform:scaleX(1.2045);-webkit-text-stroke:0.25px #333;">30</span>
<span class="t" style="top:529.00px;font-size:6.2px;line-height:8px;color:#333;right:241.20px;transform-origin:100% 6.00px;transform:scaleX(1.2045);-webkit-text-stroke:0.25px #333;">35</span>
<span class="t" style="top:519.00px;font-size:6.2px;line-height:8px;color:#333;right:241.20px;transform-origin:100% 6.00px;transform:scaleX(1.2045);-webkit-text-stroke:0.25px #333;">40</span>
<span class="t" style="top:509.00px;font-size:6.2px;line-height:8px;color:#333;right:241.20px;transform-origin:100% 6.00px;transform:scaleX(1.2045);-webkit-text-stroke:0.25px #333;">45</span>
<span class="t" style="top:515.00px;font-size:5.6px;line-height:7px;color:#222;font-weight:bold;left:413.45px;transform-origin:50% 5.00px;transform:translateX(-50%) scaleX(1.3153);-webkit-text-stroke:0.3px #222;">40</span>
<span class="t" style="top:517.00px;font-size:5.6px;line-height:7px;color:#222;font-weight:bold;left:440.60px;transform-origin:50% 5.00px;transform:translateX(-50%) scaleX(1.3153);-webkit-text-stroke:0.3px #222;">39</span>
<span class="t" style="top:560.00px;font-size:5.6px;line-height:7px;color:#222;font-weight:bold;left:495.80px;transform-origin:50% 5.00px;transform:translateX(-50%) scaleX(1.3153);-webkit-text-stroke:0.3px #222;">17</span>
</section>
</main>
</div>
</body></html>
